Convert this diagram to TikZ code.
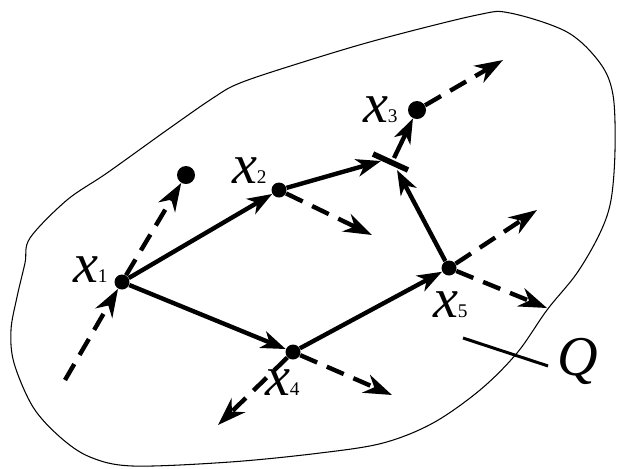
\documentclass[tikz,border=0pt]{standalone}
\usepackage{fontspec}
\setmainfont{Liberation Serif}
\usepackage{tikz}
\usetikzlibrary{arrows.meta, calc}
\tikzstyle{vtx}    = [circle, fill=black, inner sep=0pt, minimum size=0.3cm]
\tikzstyle{bigvtx} = [circle, fill=black, inner sep=0pt, minimum size=0.36cm]
\tikzstyle{arr}    = [-{Stealth[length=14pt, width=10pt, inset=4pt]}, line width=2.5pt]
\tikzstyle{darr}   = [-{Stealth[length=16pt, width=11pt, inset=5pt]}, line width=2.5pt,
                      dash pattern=on 10.5pt off 6pt]
\tikzstyle{lab}    = [inner sep=0pt, font=\fontsize{32}{34}\selectfont]
\tikzstyle{region} = [line width=0.6pt]
\newcommand{\xname}[1]{\textit{x}{\fontsize{11}{12}\selectfont #1}}

\begin{document}
\begin{tikzpicture}[x=0.02cm, y=-0.02cm]
  \useasboundingbox (0,0) rectangle (617,468);

  \draw[region] plot[smooth cycle, tension=0.55] coordinates {
    (30,238) (67,200) (107,173) (167,130) (213,98) (240,83) (300,63)
    (377,40) (477,15) (510,13) (567,32) (600,63) (613,95) (615,150)
    (611,200) (600,233) (577,273) (547,310) (517,353) (480,390)
    (433,423) (383,443) (320,453) (230,462) (133,466) (90,457)
    (60,437) (33,407) (14,363) (11,330) (17,297) (25,263)};

  \node[vtx] (x1) at (122,282) {};
  \node[vtx] (x2) at (279,190) {};
  \node[bigvtx] (x3) at (417,110) {};
  \node[vtx] (x4) at (293,352) {};
  \node[vtx] (x5) at (449,268) {};
  \node[bigvtx] (p) at (186,175) {};

  \node[lab, anchor=base east] (l1) at ($(x1)+(-14,0)$) {\xname{1}};
  \node[lab, anchor=base east] (l2) at ($(x2)+(-12,-7)$) {\xname{2}};
  \node[lab, anchor=base east] (l3) at ($(x3)+(-19,12)$) {\xname{3}};
  \node[lab, anchor=base east] (l4) at ($(x4)+(7,43)$) {\xname{4}};
  \node[lab, anchor=base east] (l5) at ($(x5)+(19,49)$) {\xname{5}};
  \node[lab, anchor=base west] (q) at (557,375) {\textit{Q}};

  \coordinate (bar) at (391,162);
  \draw[line width=3.2pt] ($(bar)+(-18,-8)$) -- ($(bar)+(17,8)$);
  \coordinate (b2) at (381,161);
  \coordinate (b5) at (397,170);
  \coordinate (b3) at (394,158);

  \draw[arr] (x1) -- (x2);
  \draw[arr] (x1) -- (x4);
  \draw[arr] (x4) -- (x5);
  \draw[arr] (x2) -- (b2);
  \draw[arr] (x5) -- (b5);
  \draw[arr] (b3) -- (x3);

  \coordinate (s1) at (65,380);
  \coordinate (e2) at (372,235);
  \coordinate (e3) at (503,60);
  \coordinate (e5a) at (537,210);
  \coordinate (e5b) at (547,308);
  \coordinate (e4a) at (392,395);
  \coordinate (e4b) at (218,425);

  \draw[darr] (s1) -- (x1);
  \draw[darr] (x1) -- (p);
  \draw[darr] (x2) -- (e2);
  \draw[darr] (x3) -- (e3);
  \draw[darr] (x5) -- (e5a);
  \draw[darr] (x5) -- (e5b);
  \draw[darr] (x4) -- (e4a);
  \draw[darr] (x4) -- (e4b);

  \coordinate (qend) at (463,338);
  \draw[line width=1.7pt] ($(q.west)+(-9,5)$) -- (qend);

\end{tikzpicture}
\end{document}
